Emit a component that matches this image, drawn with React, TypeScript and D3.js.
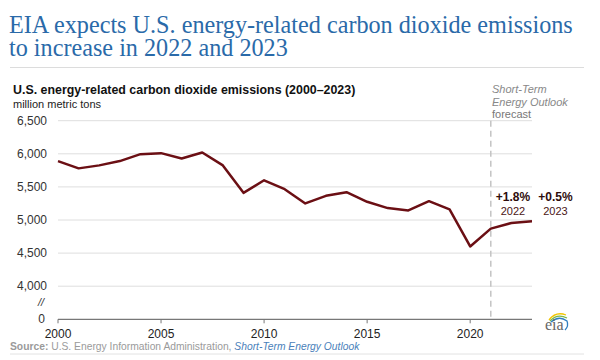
import React from "react";
import * as d3 from "d3";

const years = [2000,2001,2002,2003,2004,2005,2006,2007,2008,2009,2010,2011,2012,2013,2014,2015,2016,2017,2018,2019,2020,2021,2022,2023];
const emissions = [5890,5780,5825,5890,5995,6010,5930,6020,5825,5410,5600,5465,5250,5365,5420,5275,5180,5145,5285,5160,4600,4870,4955,4980];
const yTicks = [4000,4500,5000,5500,6000,6500];
const yBreakValue = 3500; // drawn as "0" after the axis break
const xTicks = [2000,2005,2010,2015,2020];
const forecastStart = 2021;
const annotations = [
  { year: 2022, pct: "+1.8%", label: "2022" },
  { year: 2023, pct: "+0.5%", label: "2023" },
];

const W = 600, H = 360;
const SANS = "'Liberation Sans', Arial, sans-serif";
const SERIF = "'Liberation Serif', 'Times New Roman', serif";

export default function App() {
  const x = d3.scaleLinear().domain([2000, 2023]).range([58, 532]);
  const y = d3.scaleLinear().domain([3500, 6500]).range([319.3, 120.7]);
  const line = d3.line<number>().x((_, i) => x(years[i])).y((d) => y(d));
  const fmt = d3.format(",");
  const annX = [513, 555.5];

  return (
    <svg width={W} height={H} style={{ position: "absolute", left: 0, top: 0, background: "#fff" }}>
      {/* Title */}
      <text x={9} y={33} fontFamily={SERIF} fontSize={24.2} fill="#2a6aa9">EIA expects U.S. energy-related carbon dioxide emissions</text>
      <text x={9} y={56} fontFamily={SERIF} fontSize={24.2} fill="#2a6aa9">to increase in 2022 and 2023</text>
      <line x1={10} x2={584} y1={67.5} y2={67.5} stroke="#dcdcdc" strokeWidth={1} />

      {/* Subtitle */}
      <text x={13} y={93.5} fontFamily={SANS} fontSize={12.4} fontWeight="bold" fill="#111">U.S. energy-related carbon dioxide emissions (2000–2023)</text>
      <text x={13} y={107.5} fontFamily={SANS} fontSize={11} fill="#222">million metric tons</text>

      {/* Forecast label */}
      <text x={492} y={93} fontFamily={SANS} fontSize={11} fontStyle="italic" fill="#888">Short-Term</text>
      <text x={492} y={106} fontFamily={SANS} fontSize={11} fontStyle="italic" fill="#888">Energy Outlook</text>
      <text x={492} y={118} fontFamily={SANS} fontSize={11} fill="#777">forecast</text>

      {/* Gridlines */}
      {yTicks.map((t) => (
        <g key={t}>
          <line x1={x(2000)} x2={x(2023)} y1={y(t)} y2={y(t)} stroke="#dedede" strokeWidth={1} />
          <text x={47} y={y(t) + 4} textAnchor="end" fontFamily={SANS} fontSize={12} fill="#333">{fmt(t)}</text>
        </g>
      ))}
      {/* axis break */}
      <text x={45} y={y(yBreakValue) + 4} textAnchor="end" fontFamily={SANS} fontSize={12} fill="#333">0</text>
      <text x={44} y={y(yBreakValue) - 13} textAnchor="end" fontFamily={SANS} fontSize={11} fontStyle="italic" fill="#333">//</text>

      {/* Forecast divider */}
      <line x1={x(forecastStart)} x2={x(forecastStart)} y1={y(6500)} y2={y(yBreakValue)} stroke="#c4c4c4" strokeWidth={1.5} strokeDasharray="6,4" />

      {/* X axis */}
      <line x1={x(2000)} x2={x(2023)} y1={y(yBreakValue)} y2={y(yBreakValue)} stroke="#777" strokeWidth={1.2} />
      {xTicks.map((t) => (
        <g key={t}>
          <line x1={x(t)} x2={x(t)} y1={y(yBreakValue)} y2={y(yBreakValue) + 4} stroke="#777" />
          <text x={x(t)} y={337.5} textAnchor="middle" fontFamily={SANS} fontSize={12} fill="#222">{t}</text>
        </g>
      ))}

      {/* Data line */}
      <path d={line(emissions) || ""} fill="none" stroke="#6b0f14" strokeWidth={2.5} strokeLinejoin="round" />

      {/* Annotations */}
      {annotations.map((a, i) => (
        <g key={a.year}>
          <text x={annX[i]} y={200.5} textAnchor="middle" fontFamily={SANS} fontSize={12} fontWeight="bold" fill="#2e0c0c">{a.pct}</text>
          <text x={annX[i]} y={214.5} textAnchor="middle" fontFamily={SANS} fontSize={11} fill="#4a1414">{a.label}</text>
        </g>
      ))}

      {/* EIA logo */}
      <g>
        <path d="M549,320 Q556,311 566,315" fill="none" stroke="#f2c500" strokeWidth={1.3} />
        <path d="M550,321 Q557,313 567,318" fill="none" stroke="#7ab648" strokeWidth={1.3} />
        <path d="M551,322 Q559,315 567,321 Q569,326 565,330" fill="none" stroke="#2f7fc1" strokeWidth={1.3} />
        <text x={545} y={330} fontFamily={SERIF} fontSize={16} fill="#666">eia</text>
      </g>

      {/* Source */}
      <text x={10} y={350} fontFamily={SANS} fontSize={10.3}>
        <tspan fontWeight="bold" fill="#9a9a9a">Source:</tspan>
        <tspan fill="#9a9a9a"> U.S. Energy Information Administration, </tspan>
        <tspan fill="#4a7fba" fontStyle="italic">Short-Term Energy Outlook</tspan>
      </text>
      <line x1={10} x2={584} y1={354} y2={354} stroke="#e2e2e2" strokeWidth={1} />
    </svg>
  );
}
